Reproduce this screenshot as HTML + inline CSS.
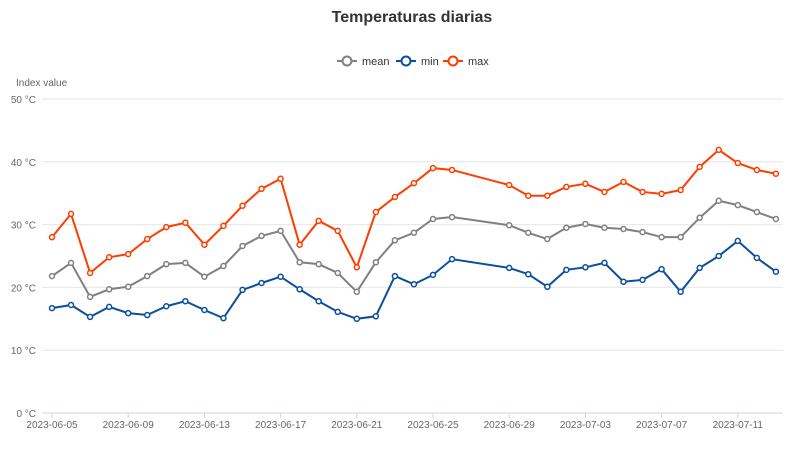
<!DOCTYPE html>
<html><head><meta charset="utf-8"><style>
body{margin:0;background:#fff;font-family:"Liberation Sans",sans-serif}
svg text{font-family:"Liberation Sans",sans-serif}
</style></head><body>
<svg id="chart" width="792" height="446">
<text x="412" y="22" text-anchor="middle" font-size="16" font-weight="bold" fill="#333">Temperaturas diarias</text>
<g font-size="11" fill="#333">
 <g><line x1="337" y1="61" x2="357" y2="61" stroke="#808080" stroke-width="2"/><circle cx="347" cy="61" r="4.5" fill="#fff" stroke="#808080" stroke-width="2"/><text x="362" y="65">mean</text></g>
 <g><line x1="396" y1="61" x2="416" y2="61" stroke="#0b4f9c" stroke-width="2"/><circle cx="406" cy="61" r="4.5" fill="#fff" stroke="#0b4f9c" stroke-width="2"/><text x="421" y="65">min</text></g>
 <g><line x1="443" y1="61" x2="463" y2="61" stroke="#ff3d00" stroke-width="2"/><circle cx="453" cy="61" r="4.5" fill="#fff" stroke="#ff3d00" stroke-width="2"/><text x="468" y="65">max</text></g>
</g>
<text x="16" y="86" font-size="10" fill="#666">Index value</text>
<g id="grid"></g><g id="xaxis"></g><g id="series"></g>
</svg>
<script>
const dates=["2023-06-05","2023-06-06","2023-06-07","2023-06-08","2023-06-09","2023-06-10","2023-06-11","2023-06-12","2023-06-13","2023-06-14","2023-06-15","2023-06-16","2023-06-17","2023-06-18","2023-06-19","2023-06-20","2023-06-21","2023-06-22","2023-06-23","2023-06-24","2023-06-25","2023-06-26","2023-06-29","2023-06-30","2023-07-01","2023-07-02","2023-07-03","2023-07-04","2023-07-05","2023-07-06","2023-07-07","2023-07-08","2023-07-09","2023-07-10","2023-07-11","2023-07-12","2023-07-13"];
const maxVals=[28.0,31.7,22.3,24.8,25.3,27.7,29.6,30.3,26.8,29.8,33.0,35.7,37.3,26.8,30.6,29.0,23.2,32.0,34.4,36.6,39.0,38.7,36.3,34.6,34.6,36.0,36.5,35.2,36.8,35.2,34.9,35.5,39.2,41.9,39.8,38.7,38.1];
const meanVals=[21.8,23.9,18.5,19.7,20.1,21.8,23.7,23.9,21.7,23.4,26.6,28.2,29.0,24.0,23.7,22.3,19.3,24.0,27.5,28.7,30.9,31.2,29.9,28.7,27.7,29.5,30.1,29.5,29.3,28.8,28.0,28.0,31.1,33.8,33.1,32.0,30.9];
const minVals=[16.7,17.2,15.3,16.9,15.9,15.6,17.0,17.8,16.4,15.1,19.6,20.7,21.7,19.7,17.8,16.1,15.0,15.4,21.8,20.5,22.0,24.5,23.1,22.1,20.1,22.8,23.2,23.9,20.9,21.2,22.9,19.3,23.1,25.0,27.4,24.7,22.5];
const yTicks=[0,10,20,30,40,50];
const xTicks=["2023-06-05","2023-06-09","2023-06-13","2023-06-17","2023-06-21","2023-06-25","2023-06-29","2023-07-03","2023-07-07","2023-07-11"];
const NS="http://www.w3.org/2000/svg";
const t0=Date.parse("2023-06-05");
const xS=d=>52+(Date.parse(d)-t0)/86400000*19.05;
const yS=v=>413-v*6.28;
function mk(tag,attrs,parent){const e=document.createElementNS(NS,tag);for(const k in attrs)e.setAttribute(k,attrs[k]);parent.appendChild(e);return e;}
const grid=document.getElementById('grid');
yTicks.forEach(v=>{
 const l=mk('line',{x1:42,x2:783,y1:yS(v),y2:yS(v),stroke:v===0?'#ccd6eb':'#e6e6e6','stroke-width':1},grid);
 
 
 const t=mk('text',{x:36,y:yS(v)+4,'text-anchor':'end','font-size':10,fill:'#666'},grid);
 t.textContent=v+' °C';
 
 
});
const xa=document.getElementById('xaxis');
xTicks.forEach(d=>{
 const x=xS(d);
 const l=mk('line',{x1:x,x2:x,y1:413,y2:418,stroke:'#ccd6eb'},xa);
 
 
 const t=mk('text',{x:x,y:428,'text-anchor':'middle','font-size':10,fill:'#666'},xa);
 t.textContent=d;
 
 
});
const sg=document.getElementById('series');
[[meanVals,'#808080','mean'],[minVals,'#0b4f9c','min'],[maxVals,'#ff3d00','max']].forEach(([vals,c,n])=>{
 const g=mk('g',{},sg);
 
 
 const p=mk('polyline',{points:vals.map((v,i)=>xS(dates[i])+','+yS(v)).join(' '),fill:'none',stroke:c,'stroke-width':2},g);
 
 
 vals.forEach((v,i)=>{
  const cc=mk('circle',{cx:xS(dates[i]),cy:yS(v),r:2.5,fill:'#fff',stroke:c,'stroke-width':1.5},g);
  
  
 });
});
</script>
</body></html>
